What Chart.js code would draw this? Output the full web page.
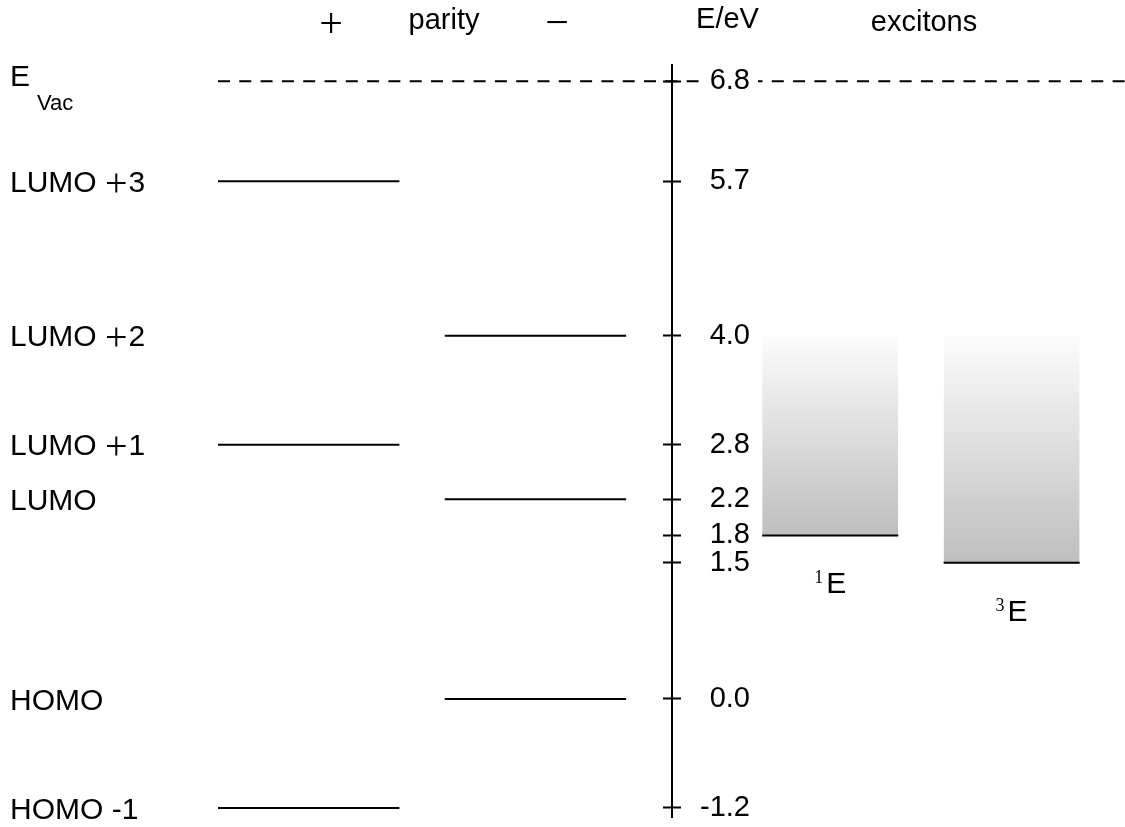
<!DOCTYPE html>
<html>
<head>
<meta charset="utf-8">
<title>Energy levels</title>
<script src="https://cdn.jsdelivr.net/npm/chart.js@4/dist/chart.umd.min.js"></script>
<style>
  html, body { margin: 0; padding: 0; background: #ffffff; }
  #wrap { position: relative; width: 1125px; height: 827px; }
</style>
</head>
<body>
<div id="wrap"><canvas id="levels"></canvas></div>
<script>
// Orbital levels (eV) and their parity
const orbitalNames = ['LUMO +3', 'LUMO +2', 'LUMO +1', 'LUMO', 'HOMO', 'HOMO -1'];
const orbitalEnergies = [5.7, 4.0, 2.8, 2.2, 0.0, -1.2];
const orbitalParity = ['+', '−', '+', '−', '−', '+'];

// Vacuum level (eV)
const vacuumEnergy = 6.8;

// Exciton states: spin multiplicity, onset energy, top of the band (eV)
const excitonSpins = ['1', '3'];
const excitonEnergies = [1.8, 1.5];
const excitonBandTops = [4.0, 4.0];

// Energy axis tick values (eV)
const energyTicks = [-1.2, 0.0, 1.5, 1.8, 2.2, 2.8, 4.0, 5.7, 6.8];

// Horizontal layout in x-scale units
const parityColumns = { '+': [0, 4], '−': [5, 9] };
const axisColumn = 10;
const excitonColumns = [[12, 15], [16, 19]];
const vacuumSpan = [0, 20];

const FONT = '"Liberation Sans", Arial, sans-serif';
const SERIF = '"Liberation Serif", "Times New Roman", serif';

function bandGradient(chart, top, bottom) {
  const y = chart.scales.y;
  if (!y || !chart.chartArea) return '#d8d8d8';
  const g = chart.ctx.createLinearGradient(0, y.getPixelForValue(top), 0, y.getPixelForValue(bottom));
  g.addColorStop(0, '#fcfcfc');
  g.addColorStop(1, '#bebebe');
  return g;
}

const datasets = [];

datasets.push({
  label: 'E Vac',
  data: [{ x: vacuumSpan[0], y: vacuumEnergy }, { x: vacuumSpan[1], y: vacuumEnergy }],
  borderColor: '#000', borderWidth: 2, borderDash: [12, 9.3],
  pointRadius: 0, fill: false
});

orbitalNames.forEach((name, i) => {
  const [x0, x1] = parityColumns[orbitalParity[i]];
  datasets.push({
    label: name,
    data: [{ x: x0, y: orbitalEnergies[i] }, { x: x1, y: orbitalEnergies[i] }],
    borderColor: '#000', borderWidth: 2, pointRadius: 0, fill: false
  });
});

excitonSpins.forEach((spin, i) => {
  const [x0, x1] = excitonColumns[i];
  datasets.push({
    label: spin + 'E',
    data: [{ x: x0, y: excitonEnergies[i] }, { x: x1, y: excitonEnergies[i] }],
    borderColor: '#000', borderWidth: 2, pointRadius: 0,
    fill: { value: excitonBandTops[i] },
    backgroundColor: (ctx) => bandGradient(ctx.chart, excitonBandTops[i], excitonEnergies[i])
  });
});

// Shared settings for the energy axes (line, tick marks, tick labels)
function energyAxis(extra) {
  return Object.assign({
    type: 'linear',
    axis: 'y',
    min: -1.3,
    max: 6.98,
    afterBuildTicks: (scale) => { scale.ticks = energyTicks.map(v => ({ value: v })); },
    afterFit: (scale) => { scale.paddingTop = 0; scale.paddingBottom = 0; }
  }, extra);
}

// Orbital name, with the plus sign set as a thin math symbol
function drawOrbitalName(ctx, name, x, y) {
  const parts = name.split('+');
  ctx.font = '30px ' + FONT;
  ctx.fillText(parts[0], x, y);
  if (parts.length < 2) return;
  let cx = x + ctx.measureText(parts[0]).width;
  ctx.font = '40px ' + SERIF;
  ctx.fillText('+', cx, y + 4);
  cx += ctx.measureText('+').width + 1;
  ctx.font = '30px ' + FONT;
  ctx.fillText(parts[1], cx, y);
}

// Header captions, orbital names and exciton term symbols
const captions = {
  id: 'captions',
  afterDraw(chart) {
    const { ctx, scales: { x, y } } = chart;
    ctx.save();
    ctx.fillStyle = '#000';
    ctx.textAlign = 'left';
    ctx.textBaseline = 'alphabetic';

    orbitalNames.forEach((name, i) => {
      drawOrbitalName(ctx, name, 10, y.getPixelForValue(orbitalEnergies[i]) + 10.8);
    });

    const yv = y.getPixelForValue(vacuumEnergy);
    ctx.font = '30px ' + FONT;
    ctx.fillText('E', 10, yv + 4.5);
    ctx.font = '22px ' + FONT;
    ctx.fillText('Vac', 37, yv + 28.5);

    ctx.textAlign = 'center';
    ctx.font = '42px ' + SERIF;
    ctx.fillText('+', 331, 36.5);
    ctx.fillText('−', 557, 36);
    ctx.font = '29px ' + FONT;
    ctx.fillText('parity', 444, 29);
    ctx.fillText('E/eV', 727.5, 27.5);
    ctx.fillText('excitons', 924, 30.5);

    excitonSpins.forEach((spin, i) => {
      const [x0, x1] = excitonColumns[i];
      const cx = x.getPixelForValue((x0 + x1) / 2);
      const base = y.getPixelForValue(excitonEnergies[i]) + 58;
      ctx.font = '18px ' + SERIF;
      const sw = ctx.measureText(spin).width;
      ctx.font = '30px ' + FONT;
      const ew = ctx.measureText('E').width;
      const gap = 3;
      const left = cx - (sw + gap + ew) / 2;
      ctx.textAlign = 'left';
      ctx.fillText('E', left + sw + gap, base);
      ctx.font = '18px ' + SERIF;
      ctx.fillText(spin, left, base - 10);
    });
    ctx.restore();
  }
};

new Chart(document.getElementById('levels'), {
  type: 'line',
  data: { datasets },
  options: {
    responsive: true,
    maintainAspectRatio: false,
    animation: false,
    devicePixelRatio: 1,
    events: [],
    layout: { padding: { left: 218, right: 0, top: 65, bottom: 10 } },
    plugins: { legend: { display: false }, tooltip: { enabled: false }, title: { display: false } },
    elements: { line: { tension: 0, borderCapStyle: 'butt' } },
    scales: {
      x: { type: 'linear', min: vacuumSpan[0], max: vacuumSpan[1], display: false },
      y: energyAxis({
        position: { x: axisColumn },
        border: { display: true, color: '#000', width: 2 },
        grid: { display: false, drawTicks: false },
        ticks: { display: false }
      }),
      yTicks: energyAxis({
        position: { x: axisColumn + 0.21 },
        border: { display: false },
        grid: { display: true, drawOnChartArea: false, drawTicks: true, tickLength: 18, tickWidth: 2, tickColor: '#000', z: 1 },
        ticks: { display: false }
      }),
      yLabels: energyAxis({
        position: { x: 11.73 },
        border: { display: false },
        grid: { display: false, drawTicks: false },
        ticks: {
          display: true, padding: 0, color: '#000', z: 1,
          font: { family: FONT, size: 29 },
          callback: (v) => Number(v).toFixed(1),
          showLabelBackdrop: true, backdropColor: '#ffffff',
          backdropPadding: { left: 10, right: 8, top: -6, bottom: -6 }
        }
      })
    }
  },
  plugins: [captions]
});
</script>
</body>
</html>
